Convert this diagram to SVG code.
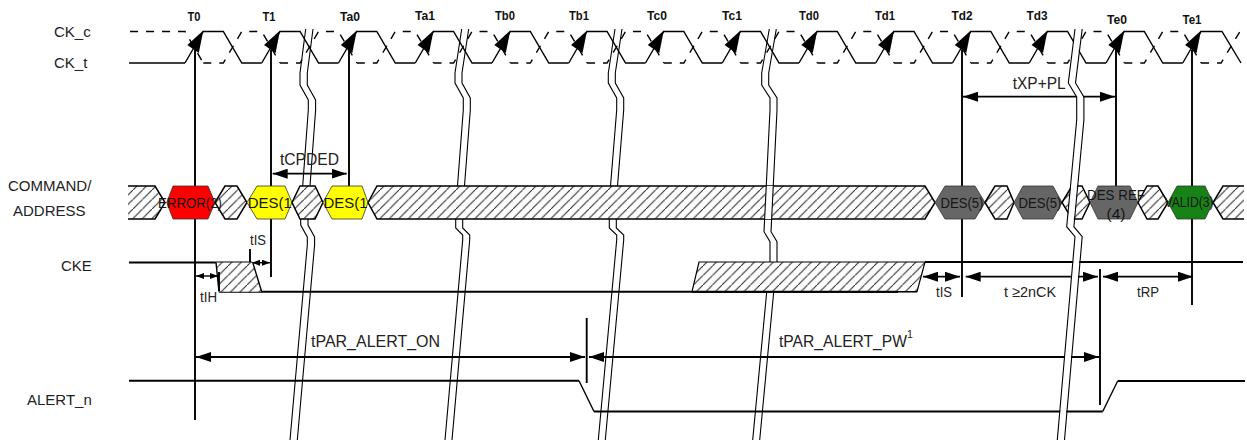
<svg xmlns="http://www.w3.org/2000/svg" xmlns:xlink="http://www.w3.org/1999/xlink" width="1247" height="442" viewBox="0 0 1247 442">
<style>
text{font-family:"Liberation Sans",Arial,sans-serif;fill:#222;font-size:15px}
.tick{font-size:12.5px;font-weight:bold;text-anchor:middle;fill:#111}
.hx{font-size:15.5px;text-anchor:middle;fill:#151515}
.dim{font-size:16px}
.sm{font-size:15px}
.sig{fill:none;stroke:#000;stroke-width:1.4}
.thick{fill:none;stroke:#000;stroke-width:2}
.v{fill:none;stroke:#000;stroke-width:1.9}
.dash{fill:none;stroke:#000;stroke-width:1.4;stroke-dasharray:8 8}
.hatch{fill:url(#h);stroke:#000;stroke-width:1.5}
.col{stroke:#333;stroke-width:.8}
.arr{fill:none;stroke:#000;stroke-width:1.8;marker-start:url(#ah);marker-end:url(#ah)}
.arrs{fill:none;stroke:#000;stroke-width:1.4;marker-start:url(#as);marker-end:url(#as)}
.br{fill:none;stroke:#000;stroke-width:1.1}
</style>
<defs>
<pattern id="h" patternUnits="userSpaceOnUse" width="9.5" height="9.5">
<rect width="9.5" height="9.5" fill="#fff"/>
<path d="M-1,10.5 L10.5,-1" stroke="#222" stroke-width="1"/>
</pattern>
<marker id="ah" markerUnits="userSpaceOnUse" markerWidth="16" markerHeight="10" refX="15" refY="5" orient="auto-start-reverse"><path d="M0,0 L15,5 L0,10 Z" fill="#000"/></marker>
<marker id="as" markerUnits="userSpaceOnUse" markerWidth="9" markerHeight="7" refX="8" refY="3" orient="auto-start-reverse"><path d="M0,0 L8,3 L0,6 Z" fill="#000"/></marker>
<g id="per">
<path class="sig" d="M-18.3,63 L0,31.5 H20 L38.5,63 H58.45"/>
<path class="dash" d="M0,63 H20 L38.5,31.5 H58.45 L76.75,63"/>
<polygon points="0,30.5 -16,45 -4.5,53" fill="#000"/>
</g>
<path id="brA" d="M305.7,29 L300,73 L300,85 L308.3,100 L308.3,110 L302.7,186 L300.7,219 V225 L307.3,237 V245 L290,440"/>
<path id="brB" d="M461.7,29 L455,73 L455,83 L463.3,98 V110 L457.5,186 L455.7,220 V228 L462.7,235 V240 L445,440"/>
<path id="brC" d="M615,29 L608.3,73 V83 L616.7,98 V110 L610.5,186 L609.3,220 V228 L616.7,235 V240 L598.3,440"/>
<path id="brD" d="M769.3,29 L761.7,73 V85 L770,98 V110 L764,231.7 L770,241.7 V262 L766.7,292 L752.7,440"/>
<path id="brE" d="M1075,29 L1068.3,83 L1076.7,97 V120 L1066.7,226.7 L1075,236.7 L1057.3,440"/>
</defs>
<rect width="1247" height="442" fill="#fff"/>

<g id="labels">
<text x="54" y="37">CK_c</text>
<text x="54" y="68">CK_t</text>
<text x="8" y="191">COMMAND/</text>
<text x="13" y="216">ADDRESS</text>
<text x="61" y="271">CKE</text>
<text x="27" y="405">ALERT_n</text>
</g>

<g id="ticks">
<text class="tick" x="194" y="21" textLength="13" lengthAdjust="spacingAndGlyphs">T0</text>
<text class="tick" x="269" y="21" textLength="13" lengthAdjust="spacingAndGlyphs">T1</text>
<text class="tick" x="350" y="21" textLength="20" lengthAdjust="spacingAndGlyphs">Ta0</text>
<text class="tick" x="425" y="20" textLength="20" lengthAdjust="spacingAndGlyphs">Ta1</text>
<text class="tick" x="505" y="20" textLength="20" lengthAdjust="spacingAndGlyphs">Tb0</text>
<text class="tick" x="579" y="20" textLength="20" lengthAdjust="spacingAndGlyphs">Tb1</text>
<text class="tick" x="657" y="20" textLength="20" lengthAdjust="spacingAndGlyphs">Tc0</text>
<text class="tick" x="732" y="20" textLength="20" lengthAdjust="spacingAndGlyphs">Tc1</text>
<text class="tick" x="809" y="20" textLength="20" lengthAdjust="spacingAndGlyphs">Td0</text>
<text class="tick" x="885" y="20" textLength="20" lengthAdjust="spacingAndGlyphs">Td1</text>
<text class="tick" x="962" y="20" textLength="21" lengthAdjust="spacingAndGlyphs">Td2</text>
<text class="tick" x="1037" y="20" textLength="21" lengthAdjust="spacingAndGlyphs">Td3</text>
<text class="tick" x="1117" y="24" textLength="20" lengthAdjust="spacingAndGlyphs">Te0</text>
<text class="tick" x="1192" y="24" textLength="19" lengthAdjust="spacingAndGlyphs">Te1</text>
</g>

<g id="clock">
<path class="sig" d="M129,63 H185"/>
<path class="dash" d="M130,31.5 H185 L203.3,63"/>
<use href="#per" x="203.3"/>
<use href="#per" x="280.05"/>
<use href="#per" x="356.8"/>
<use href="#per" x="433.55"/>
<use href="#per" x="510.3"/>
<use href="#per" x="587.05"/>
<use href="#per" x="663.8"/>
<use href="#per" x="740.55"/>
<use href="#per" x="817.3"/>
<use href="#per" x="894.05"/>
<use href="#per" x="970.8"/>
<use href="#per" x="1047.55"/>
<use href="#per" x="1124.3"/>
<path class="sig" d="M1182.75,63 L1201.05,31.5 H1222 L1241,63"/>
<path class="dash" d="M1201.05,63 H1221 L1240,31.5"/>
<polygon points="1201.05,30.5 1185.05,45 1196.55,53" fill="#000"/>
</g>

<g id="connectors">
<path class="v" d="M195,50 V420"/>
<path class="v" d="M271,50 V277"/>
<path class="v" d="M349,50 V186"/>
<path class="v" d="M962,50 V297"/>
<path class="v" d="M1116,50 V186"/>
<path class="v" d="M1192,50 V305"/>
<path class="v" d="M250,249 V277"/>
<path class="v" d="M1100,269 V405"/>
<path class="v" d="M586.7,318 V383"/>
<path class="arr" d="M272.7,173.7 H346.7"/>
<path class="arr" d="M963,96.7 H1115"/>
<path class="arrs" d="M196,276 H218"/>
<path class="arrs" d="M252,262.7 H270"/>
<path class="arr" d="M923,276.7 H960"/>
<path class="arr" d="M965.7,276.7 H1098"/>
<path class="arr" d="M1103,276.7 H1193"/>
<path class="arr" d="M196,357 H585"/>
<path class="arr" d="M589,357 H1099"/>
<use href="#brA" class="br"/><use href="#brA" class="br" x="7.3"/>
<use href="#brB" class="br"/><use href="#brB" class="br" x="7"/>
<use href="#brC" class="br"/><use href="#brC" class="br" x="7"/>
</g>

<g id="signal-lines">
<path class="thick" d="M129,262.4 H252"/>
<path class="thick" d="M219,291.7 H898"/>
<path class="sig" d="M898,291.7 H917"/>
<path class="thick" d="M925,262 H1243"/>
<path class="thick" d="M129,380.7 H579"/>
<path class="sig" d="M579,380.7 L594,411.5"/>
<path class="thick" d="M594,411.5 H1102.7"/>
<path class="sig" d="M1102.7,411.5 L1117.7,381"/>
<path class="thick" d="M1117.7,381 H1245"/>
</g>

<g id="cmd-row">
<path class="hatch" d="M128,186 H155 L165,202.5 L155,219 H128"/>
<polygon class="col" fill="#ff0000" points="166.7,202.5 173,186 208,186 215,202.5 208,219 173,219"/>
<polygon class="hatch" points="215,202.5 225,186 237,186 247,202.5 237,219 225,219"/>
<polygon class="col" fill="#ffff00" points="247,202.5 257,186 285,186 292,202.5 285,219 257,219"/>
<polygon class="hatch" points="292,202.5 300,186 315,186 323,202.5 315,219 300,219"/>
<polygon class="col" fill="#ffff00" points="323,202.5 332,186 362,186 368,202.5 362,219 332,219"/>
<polygon class="hatch" points="368,202.5 377,186 925,186 935,202.5 925,219 377,219"/>
<polygon class="col" fill="#666666" points="935,202.5 945,186 975,186 985,202.5 975,219 945,219"/>
<polygon class="hatch" points="985,202.5 995,186 1007,186 1014,202.5 1007,219 995,219"/>
<polygon class="col" fill="#666666" points="1014,202.5 1023,186 1053,186 1062,202.5 1053,219 1023,219"/>
<polygon class="hatch" points="1062,202.5 1072,186 1082,186 1090,202.5 1082,219 1072,219"/>
<polygon class="col" fill="#666666" points="1090,202.5 1098,186 1130,186 1138,202.5 1130,219 1098,219"/>
<polygon class="hatch" points="1138,202.5 1147,186 1158,186 1168,202.5 1158,219 1147,219"/>
<polygon class="col" fill="#178317" points="1168,202.5 1177,186 1205,186 1213,202.5 1205,219 1177,219"/>
<path class="hatch" d="M1244,186 H1223 L1213,202.5 L1223,219 H1244"/>
</g>

<g id="break-d">
<polygon points="766,186 773.5,186 772,219 764.6,219" fill="#fff"/>
<use href="#brD" class="br"/><use href="#brD" class="br" x="7"/>
</g>

<g id="cke-hatch">
<path d="M216,262.4 H252.7 L261.7,291.7 H219 Z" fill="url(#h)" stroke="none"/>
<path class="sig" d="M216,262.4 L219,291.7 M252.7,262.4 L261.7,291.7"/>
<path class="v" d="M219,272 V291"/>
<polygon points="699,262 925,262 917,291.7 692,291.7" fill="url(#h)" stroke="#000" stroke-width="1.2"/>
<path class="thick" d="M692,291.7 H898"/>
</g>

<g id="break-e">
<use href="#brE" x="3.4" fill="none" stroke="#fff" stroke-width="6"/>
<use href="#brE" class="br"/><use href="#brE" class="br" x="7.2"/>
</g>

<g id="hex-text">
<text class="hx" x="190" y="207.5" textLength="64" lengthAdjust="spacingAndGlyphs">ERROR(2)</text>
<text class="hx" x="269.7" y="207.5" textLength="44" lengthAdjust="spacingAndGlyphs">DES(1</text>
<text class="hx" x="345.5" y="207.5" textLength="44" lengthAdjust="spacingAndGlyphs">DES(1</text>
<text class="hx" x="962" y="207.5" textLength="43" lengthAdjust="spacingAndGlyphs">DES(5)</text>
<text class="hx" x="1040" y="207.5" textLength="43" lengthAdjust="spacingAndGlyphs">DES(5)</text>
<text class="hx" x="1116" y="200" textLength="58" lengthAdjust="spacingAndGlyphs">DES REF</text>
<text class="hx" x="1116" y="219">(4)</text>
<text class="hx" x="1189" y="207" textLength="49" lengthAdjust="spacingAndGlyphs">VALID(3)</text>
</g>

<g id="dim-labels">
<text class="dim" x="280" y="165" textLength="59" lengthAdjust="spacingAndGlyphs">tCPDED</text>
<text class="dim" x="1012.7" y="89" textLength="53" lengthAdjust="spacingAndGlyphs">tXP+PL</text>
<text class="sm" x="250" y="245" textLength="16" lengthAdjust="spacingAndGlyphs">tIS</text>
<text class="sm" x="200" y="302" textLength="17" lengthAdjust="spacingAndGlyphs">tIH</text>
<text class="sm" x="936" y="297" textLength="16" lengthAdjust="spacingAndGlyphs">tIS</text>
<text class="sm" x="1004" y="297" textLength="52" lengthAdjust="spacingAndGlyphs">t ≥2nCK</text>
<text class="sm" x="1137" y="297" textLength="22" lengthAdjust="spacingAndGlyphs">tRP</text>
<text class="dim" x="311" y="346.5" textLength="129" lengthAdjust="spacingAndGlyphs">tPAR_ALERT_ON</text>
<text class="dim" x="779" y="346.5"><tspan textLength="128" lengthAdjust="spacingAndGlyphs">tPAR_ALERT_PW</tspan><tspan dy="-8.5" style="font-size:10.5px">1</tspan></text>
</g>
</svg>
